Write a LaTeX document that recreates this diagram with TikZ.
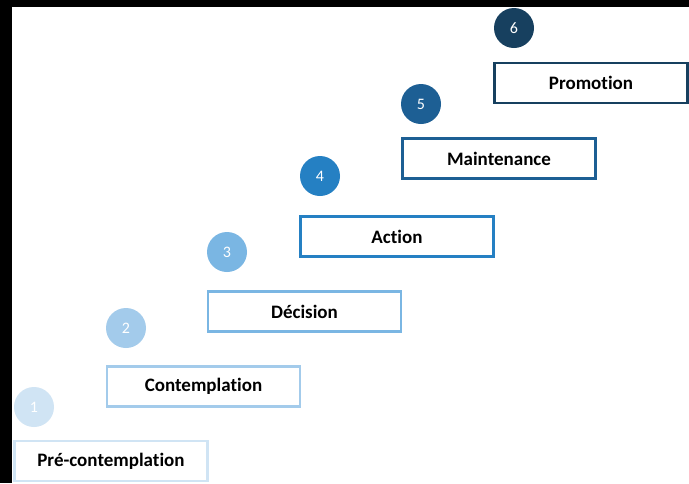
\documentclass[tikz,border=0pt]{standalone}
\usepackage{fontspec}
\setmainfont{Carlito}[Ligatures=NoCommon]
\definecolor{cA}{HTML}{D0E4F4}
\definecolor{cB}{HTML}{A3CBEB}
\definecolor{cC}{HTML}{7AB6E3}
\definecolor{cD}{HTML}{2580C3}
\definecolor{cE}{HTML}{1D5F94}
\definecolor{cF}{HTML}{17405F}
\tikzset{
  stagebox/.style={draw=#1, line width=2.5pt, fill=white, minimum width=193pt, minimum height=40pt, inner sep=0pt, font=\bfseries\fontsize{19}{22}\selectfont, text=black},
  stepnum/.style={circle, fill=#1, minimum size=40pt, inner sep=0pt, font=\fontsize{16}{18}\selectfont, text=white}
}
\begin{document}
\begin{tikzpicture}[x=1pt,y=-1pt]
\fill[black] (0,0) rectangle (689,483);
\fill[white] (12,7) rectangle (689,483);
\useasboundingbox (0,0) rectangle (689,483);
\node[stagebox=cA] (b1) at (111,461) {\raisebox{-1.5pt}{Pré-contemplation}};
\node[stagebox=cB] (b2) at (203.5,386.5) {\raisebox{-1.5pt}{Contemplation}};
\node[stagebox=cC] (b3) at (304.5,311.5) {\raisebox{-1.5pt}{Décision}};
\node[stagebox=cD] (b4) at (397,236.5) {\raisebox{-1.5pt}{Action}};
\node[stagebox=cE] (b5) at (499,158.5) {\raisebox{-1.5pt}{Maintenance}};
\node[stagebox=cF] (b6) at (591,83) {\raisebox{-1.5pt}{Promotion}};
\node[stepnum=cA] (n1) at (34,407) {1};
\node[stepnum=cB] (n2) at (126,328) {2};
\node[stepnum=cC] (n3) at (227,252) {3};
\node[stepnum=cD] (n4) at (320,176) {4};
\node[stepnum=cE] (n5) at (421,104) {5};
\node[stepnum=cF] (n6) at (514,28) {6};
\end{tikzpicture}
\end{document}
